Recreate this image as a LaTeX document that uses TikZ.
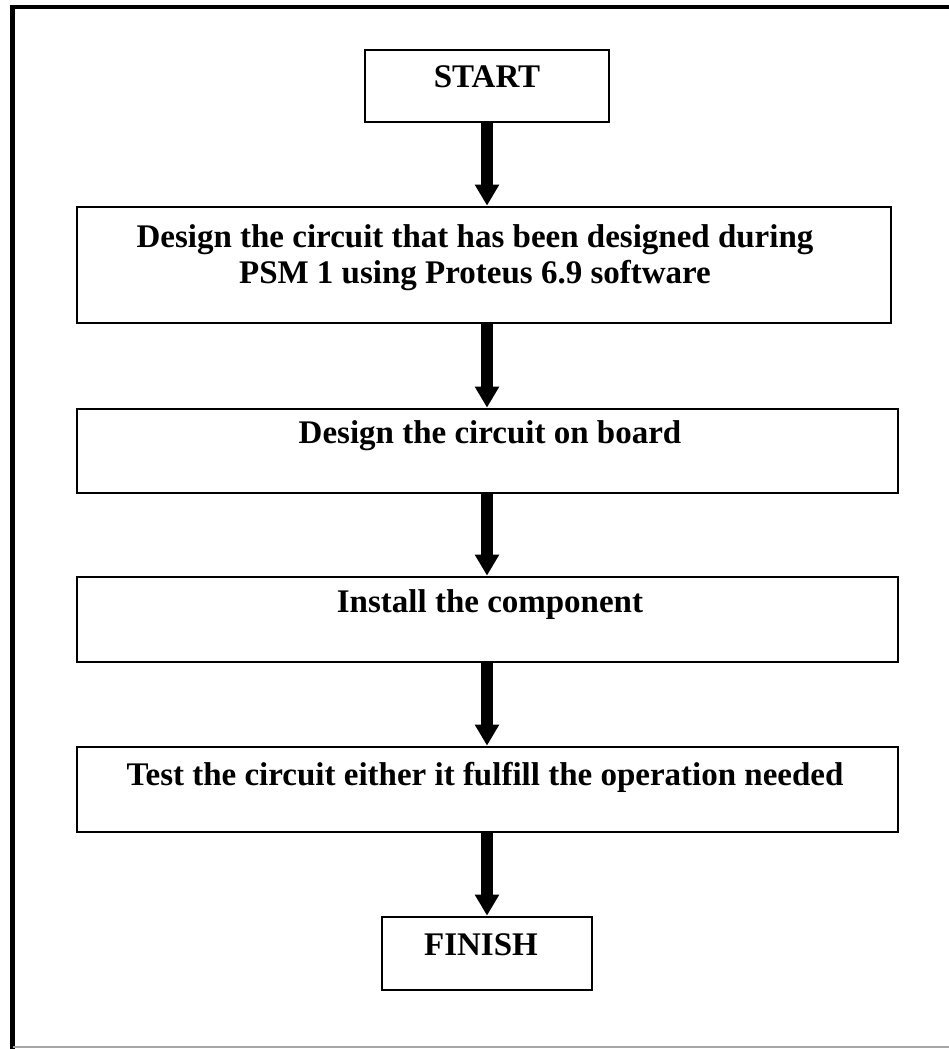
\documentclass[tikz,border=0pt]{standalone}
\usepackage{fontspec}
\setmainfont{Liberation Serif}
\usetikzlibrary{arrows.meta}
\begin{document}
\begin{tikzpicture}[x=1pt,y=-1pt,
  stepbox/.style={draw=black,line width=2.7pt,rectangle,inner sep=0pt,fill=white},
  lbl/.style={font=\fontsize{33}{36}\selectfont\bfseries,align=center,inner sep=0pt},
  flow/.style={draw=black,line width=12pt,-{Triangle[width=23pt,length=21pt]}},
  frame/.style={draw=black,line width=4.5pt}]
\useasboundingbox (0,0) rectangle (949,1049);
\fill[white] (0,0) rectangle (949,1049);
% frame
\coordinate (fTL) at (12.5,7);
\coordinate (fTR) at (951,7);
\coordinate (fBL) at (12.5,1051);
\draw[frame] (fBL) -- (fTL) -- (fTR);
\coordinate (fB1) at (12.5,1047);
\coordinate (fB2) at (949,1047);
\draw[draw=black!35,line width=1.2pt] (fB1) -- (fB2);
% boxes
\node[stepbox,minimum width=814pt,minimum height=116pt] (b2) at (484,265) {};
\node[stepbox,minimum width=244pt,minimum height=72pt] (start) at (487,86) {};
\node[stepbox,minimum width=821pt,minimum height=84pt] (b3) at (487.5,451) {};
\node[stepbox,minimum width=821pt,minimum height=85pt] (b4) at (487.5,619.5) {};
\node[stepbox,minimum width=821pt,minimum height=85pt] (b5) at (487.5,789.5) {};
\node[stepbox,minimum width=210pt,minimum height=73pt] (finish) at (487,953.5) {};
% labels
\node[lbl] (tstart) at (487,77) {START};
\node[lbl] (tb2) at (475,258) {Design the circuit that has been designed during\\PSM 1 using Proteus 6.9 software};
\node[lbl] (tb3) at (490,436) {Design the circuit on board};
\node[lbl] (tb4) at (490,605) {Install the component};
\node[lbl] (tb5) at (485,777) {Test the circuit either it fulfill the operation needed};
\node[lbl] (tfinish) at (481,945) {FINISH};
% arrows
\draw[flow] (start.south) -- (start.south |- b2.north);
\draw[flow] (start.south |- b2.south) -- (start.south |- b3.north);
\draw[flow] (start.south |- b3.south) -- (start.south |- b4.north);
\draw[flow] (start.south |- b4.south) -- (start.south |- b5.north);
\draw[flow] (start.south |- b5.south) -- (finish.north);
\end{tikzpicture}
\end{document}
